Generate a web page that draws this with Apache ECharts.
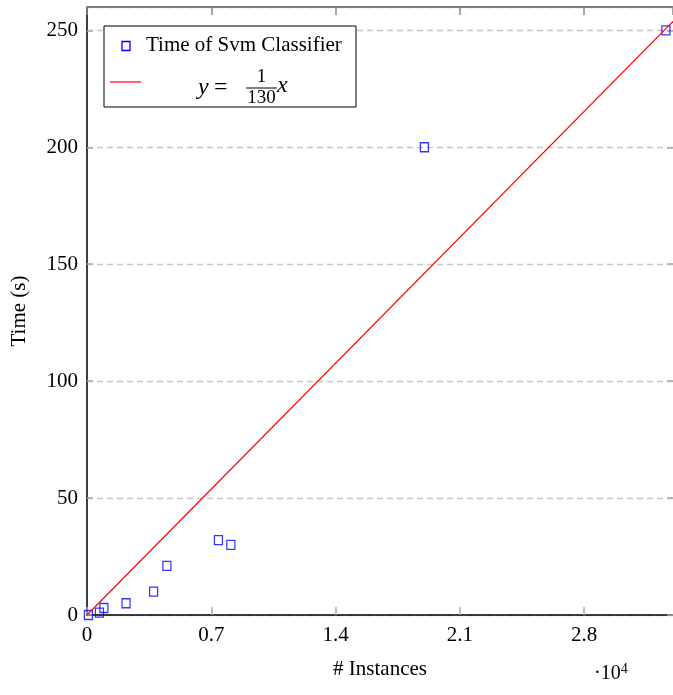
<!DOCTYPE html>
<html>
<head>
<meta charset="utf-8">
<script src="https://cdn.jsdelivr.net/npm/echarts@6/dist/echarts.min.js"></script>
<style>
  html, body { margin: 0; padding: 0; background: #fff; }
  #chart { width: 673px; height: 695px; }
</style>
</head>
<body>
<div id="chart"></div>
<script>
// measured points (x = instances, y = seconds)
var svmX = [80, 700, 950, 2200, 3750, 4500, 7400, 8100, 19000, 32600];
var svmY = [0, 1, 3, 5, 10, 21, 32, 30, 200, 250];
// reference line y = x / 130
var slope = 1 / 130;
var lineX = [0, 33000];
var yTicks = [0, 50, 100, 150, 200, 250];

var serif = '"Liberation Serif", "DejaVu Serif", serif';

var svmData = svmX.map(function(x, i) { return [x, svmY[i]]; });
var lineData = lineX.map(function(x) { return [x, x * slope]; });

var myChart = echarts.init(document.getElementById('chart'));
var option = {
	animation: false,
	grid: { left: 87, right: 0, top: 7, bottom: 80, containLabel: false },
	xAxis: [{
		type: 'value', min: 0, max: 33000, interval: 7000,
		name: '# Instances', nameLocation: 'middle', nameGap: 44,
		nameTextStyle: { fontFamily: serif, fontSize: 21, color: '#000' },
		axisLine: { show: true, onZero: false, lineStyle: { color: '#000', width: 1.5 } },
		axisTick: { inside: true, length: 8, lineStyle: { color: '#aaa', width: 1.5 } },
		axisLabel: {
			margin: 10, fontFamily: serif, fontSize: 21, color: '#000', showMaxLabel: false,
			formatter: function(v) { return String(Math.round(v / 1000) / 10); }
		},
		splitLine: { show: false }
	}, {
		type: 'value', position: 'top', min: 0, max: 33000, interval: 7000,
		axisLine: { show: true, onZero: false, lineStyle: { color: '#808080', width: 2 } },
		axisTick: { show: true, inside: true, length: 8, lineStyle: { color: '#888', width: 1.5 } },
		axisLabel: { show: false },
		splitLine: { show: false },
		z: 5
	}],
	yAxis: [{
		type: 'value', min: 0, max: 260, interval: 50,
		name: 'Time (s)', nameLocation: 'middle', nameGap: 57, nameRotate: 90,
		nameTextStyle: { fontFamily: serif, fontSize: 21, color: '#000' },
		axisLine: { show: true, onZero: false, lineStyle: { color: '#000', width: 1.5 } },
		axisTick: { show: true, inside: true, length: 6, lineStyle: { color: '#aaa', width: 1.5 } },
		axisLabel: {
			margin: 9, fontFamily: serif, fontSize: 21, color: '#000', showMaxLabel: false,
			formatter: function(v) { return yTicks.indexOf(v) >= 0 ? String(v) : ''; }
		},
		splitLine: { show: true, lineStyle: { color: '#c8c8c8', width: 1.3, type: [6, 4] } }
	}, {
		type: 'value', position: 'right', min: 0, max: 260, interval: 50,
		axisLine: { show: false, onZero: false },
		axisTick: { show: true, inside: true, length: 6, lineStyle: { color: '#aaa', width: 1.5 } },
		axisLabel: { show: false },
		splitLine: { show: false }
	}],
	legend: { show: false },
	series: [{
		name: 'Time of Svm Classifier',
		type: 'scatter',
		data: svmData,
		symbol: 'rect',
		symbolSize: [8, 9],
		itemStyle: { color: 'rgba(0,0,0,0)', borderColor: '#0000ff', borderWidth: 1.3 },
		z: 2
	}, {
		name: 'y = 1/130 x',
		type: 'line',
		data: lineData,
		showSymbol: false,
		lineStyle: { color: '#ff0000', width: 1.2 },
		z: 3
	}],
	graphic: [
		// legend box
		{ type: 'rect', shape: { x: 104, y: 26, width: 252, height: 81 },
		  style: { fill: '#fff', stroke: '#000', lineWidth: 1 }, z: 10 },
		{ type: 'rect', shape: { x: 122, y: 41.5, width: 8, height: 9 },
		  style: { fill: 'none', stroke: '#0000ff', lineWidth: 1.3 }, z: 11 },
		{ type: 'text', x: 146, y: 45, z: 11,
		  style: { text: 'Time of Svm Classifier', font: '21px ' + serif, fill: '#000', verticalAlign: 'middle' } },
		{ type: 'line', shape: { x1: 110, y1: 82, x2: 141, y2: 82 },
		  style: { stroke: '#ff0000', lineWidth: 1.2 }, z: 11 },
		{ type: 'text', x: 198, y: 88, z: 11,
		  style: { text: 'y', font: 'italic 24px ' + serif, fill: '#000', verticalAlign: 'middle' } },
		{ type: 'text', x: 214, y: 88, z: 11,
		  style: { text: '=', font: '24px ' + serif, fill: '#000', verticalAlign: 'middle' } },
		{ type: 'text', x: 261.5, y: 77, z: 11,
		  style: { text: '1', font: '19px ' + serif, fill: '#000', align: 'center', verticalAlign: 'middle' } },
		{ type: 'line', shape: { x1: 246, y1: 88, x2: 277, y2: 88 },
		  style: { stroke: '#000', lineWidth: 1 }, z: 11 },
		{ type: 'text', x: 261.5, y: 98, z: 11,
		  style: { text: '130', font: '19px ' + serif, fill: '#000', align: 'center', verticalAlign: 'middle' } },
		{ type: 'text', x: 277, y: 86, z: 11,
		  style: { text: 'x', font: 'italic 24px ' + serif, fill: '#000', verticalAlign: 'middle' } },
		// axis multiplier
		{ type: 'text', x: 594, y: 674, z: 11,
		  style: { text: '·10{s|4}', font: '20px ' + serif, fill: '#000', verticalAlign: 'middle',
		           rich: { s: { fontSize: 14, fontFamily: serif, verticalAlign: 'top', padding: [0, 0, 10, 0] } } } }
	]
};
myChart.setOption(option);
window.onresize = myChart.resize;
</script>
</body>
</html>
